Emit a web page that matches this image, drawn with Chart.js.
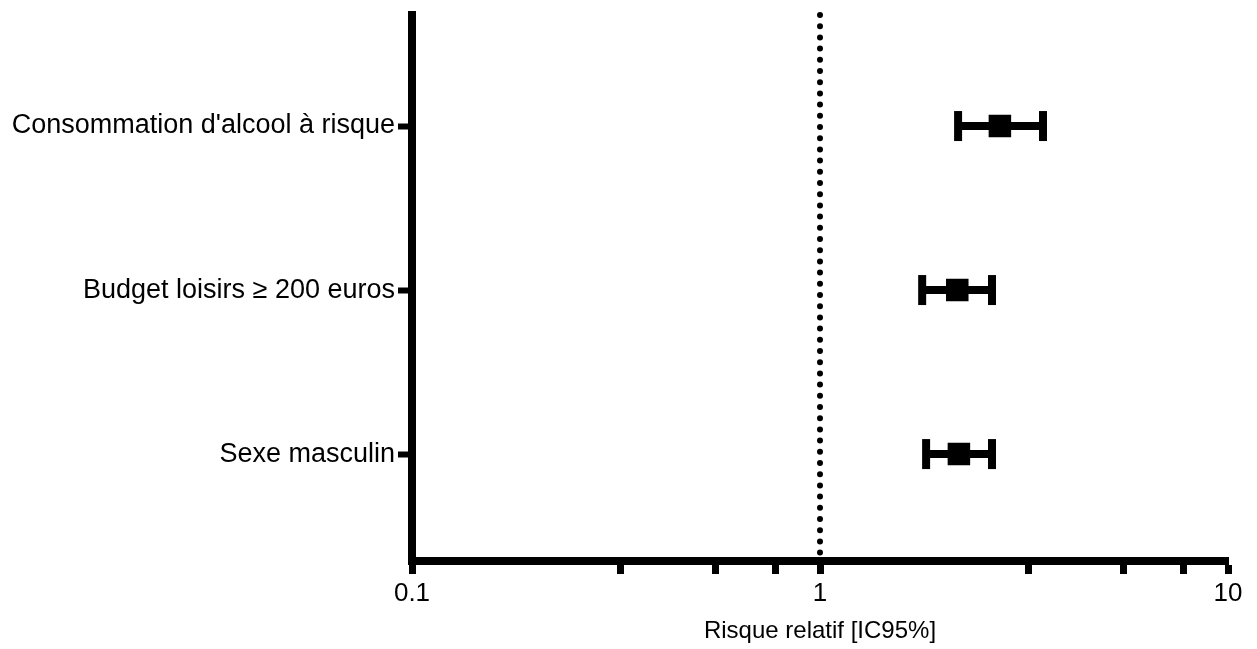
<!DOCTYPE html>
<html>
<head>
<meta charset="utf-8">
<script src="https://cdn.jsdelivr.net/npm/chart.js@4/dist/chart.umd.min.js"></script>
<style>
  html, body { margin: 0; padding: 0; background: #fff; }
  #wrap { width: 1257px; height: 649px; }
</style>
</head>
<body>
<div id="wrap"><canvas id="forestChart" width="1257" height="649"></canvas></div>
<script>
// Forest plot data (relative risk with 95% CI), top to bottom
const categories = ["Consommation d'alcool à risque", 'Budget loisirs ≥ 200 euros', 'Sexe masculin'];
const riskRatio = [2.76, 2.17, 2.19];
const ciLower = [2.18, 1.78, 1.82];
const ciUpper = [3.52, 2.64, 2.64];

// x axis ticks: labelled decades plus the small unlabelled marks
const majorTicks = [0.1, 1, 10];
const majorLabels = ['0.1', '1', '10'];
const minorTicks = [0.324, 0.553, 0.78, 3.24, 5.53, 7.8];

const refValue = 1;
const axisTitle = 'Risque relatif [IC95%]';

const FONT = "'Liberation Sans', Arial, Helvetica, sans-serif";

// Dotted vertical line at RR = 1
const refLinePlugin = {
    id: 'refLine',
    beforeDatasetsDraw(chart) {
        const { ctx, chartArea, scales } = chart;
        const x = scales.x.getPixelForValue(refValue);
        ctx.save();
        ctx.strokeStyle = '#000';
        ctx.lineWidth = 6;
        ctx.lineCap = 'round';
        ctx.setLineDash([0, 11.2]);
        ctx.beginPath();
        ctx.moveTo(x, chartArea.top);
        ctx.lineTo(x, chartArea.bottom - 8);
        ctx.stroke();
        ctx.restore();
    }
};

function initChart() {
    const ctx = document.getElementById('forestChart').getContext('2d');

    // one square per row, drawn first so it sits on top of the whiskers
    const datasets = [{
        type: 'scatter',
        data: riskRatio.map((v, i) => ({ x: v, y: i })),
        pointStyle: 'rect',
        pointRadius: 14.5,
        pointBackgroundColor: '#000',
        pointBorderColor: '#000',
        pointBorderWidth: 2
    }];

    // whisker + caps for each row
    categories.forEach((c, i) => {
        datasets.push({
            type: 'line',
            data: [{ x: ciLower[i], y: i }, { x: ciUpper[i], y: i }],
            borderColor: '#000',
            borderWidth: 8,
            pointStyle: 'line',
            pointRotation: 90,
            pointRadius: 15,
            pointBorderWidth: 8,
            pointBorderColor: '#000',
            pointBackgroundColor: '#000'
        });
    });

    new Chart(ctx, {
        data: { datasets },
        plugins: [refLinePlugin],
        options: {
            responsive: false,
            animation: false,
            events: [],
            // big markers would otherwise push the plot area down
            layout: { autoPadding: false, padding: { top: 15, right: 29, left: 0, bottom: 0 } },
            plugins: {
                legend: { display: false },
                tooltip: { enabled: false }
            },
            scales: {
                x: {
                    type: 'logarithmic',
                    min: 0.1,
                    max: 10,
                    afterBuildTicks: scale => {
                        scale.ticks = majorTicks.concat(minorTicks)
                            .sort((a, b) => a - b)
                            .map(v => ({ value: v }));
                    },
                    afterFit: scale => { scale.height = 88; },
                    border: { display: true, color: '#000', width: 8 },
                    grid: {
                        drawOnChartArea: false,
                        drawTicks: true,
                        tickLength: 13,
                        tickWidth: 7,
                        tickColor: '#000'
                    },
                    ticks: {
                        autoSkip: false,
                        maxRotation: 0,
                        padding: 4,
                        color: '#000',
                        font: { family: FONT, size: 26 },
                        callback: value => {
                            const k = majorTicks.findIndex(t => Math.abs(t - value) < 1e-9);
                            return k >= 0 ? majorLabels[k] : '';
                        }
                    },
                    title: {
                        display: true,
                        text: axisTitle,
                        color: '#000',
                        font: { family: FONT, size: 24 },
                        padding: { top: 0, bottom: 3 }
                    }
                },
                y: {
                    type: 'linear',
                    reverse: true,
                    min: -0.677,
                    max: 2.652,
                    afterBuildTicks: scale => {
                        scale.ticks = categories.map((c, i) => ({ value: i }));
                    },
                    // fixed width, and no extra label padding at the ends
                    afterFit: scale => {
                        scale.width = 412;
                        scale.paddingTop = 0;
                        scale.paddingBottom = 0;
                    },
                    border: { display: true, color: '#000', width: 8 },
                    grid: {
                        drawOnChartArea: false,
                        drawTicks: true,
                        tickLength: 14,
                        tickWidth: 6,
                        tickColor: '#000'
                    },
                    ticks: {
                        autoSkip: false,
                        padding: 3,
                        color: '#000',
                        font: { family: FONT, size: 27 },
                        callback: value => categories[value] ?? ''
                    }
                }
            }
        }
    });
}

document.addEventListener('DOMContentLoaded', initChart);
</script>
</body>
</html>
